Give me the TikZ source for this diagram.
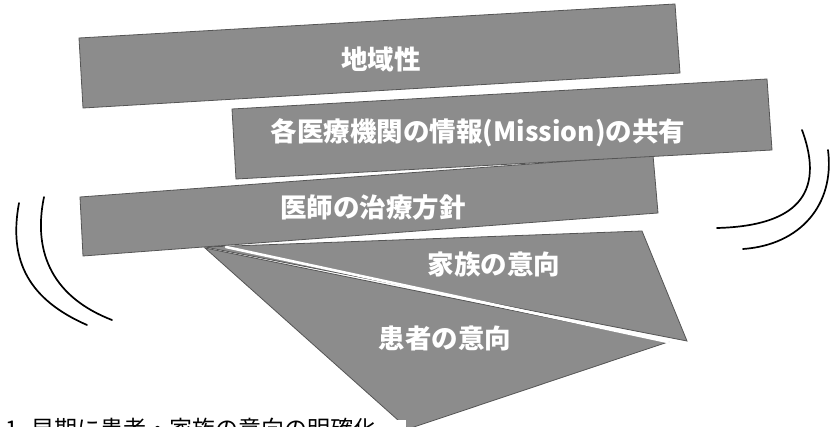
\documentclass[tikz,border=0pt]{standalone}
\usepackage{fontspec}
\newfontfamily\jp{Noto Sans CJK JP}
\definecolor{barfill}{RGB}{140,140,140}
\definecolor{baredge}{RGB}{85,85,85}
\tikzset{
  bar/.style={fill=barfill, draw=baredge, line width=0.8pt, line join=miter},
  bartext/.style={text=white, font=\jp\bfseries\fontsize{26.5}{30}\selectfont, inner sep=0pt},
  arcline/.style={draw=black, line width=1.7pt, line cap=round},
  gapline/.style={draw=white, line width=2.6pt, line cap=round},
  notetext/.style={text=black, font=\jp\fontsize{23}{26}\selectfont, inner sep=0pt}
}
\begin{document}
\begin{tikzpicture}[x=1pt,y=-1pt]
\useasboundingbox (0,0) rectangle (830,427);
\fill[white] (0,0) rectangle (830,427);
\begin{scope}
\clip (0,0) rectangle (830,427);
% triangles
\coordinate (ta) at (205,247);
\coordinate (tb) at (642,231);
\coordinate (tc) at (687,341);
\coordinate (ua) at (205,248);
\coordinate (ud) at (668,342);
\coordinate (ue) at (408,429);
\coordinate (wa) at (226,247);
\path[bar] (ta) -- (tb) -- (tc) -- cycle;
\path[bar] (ua) -- (ud) -- (ue) -- cycle;
\draw[gapline] (wa) -- (ud);
% bar 1
\coordinate (b1a) at (79,38);
\coordinate (b1b) at (675,4);
\coordinate (b1c) at (680,73);
\coordinate (b1d) at (83,108);
\path[bar] (b1a) -- (b1b) -- (b1c) -- (b1d) -- cycle;
% bar 3
\coordinate (b3a) at (80,197);
\coordinate (b3b) at (653,155);
\coordinate (b3c) at (658,213);
\coordinate (b3d) at (83,256);
\path[bar] (b3a) -- (b3b) -- (b3c) -- (b3d) -- cycle;
% bar 2
\coordinate (b2a) at (232,109);
\coordinate (b2b) at (767,79);
\coordinate (b2c) at (772,150);
\coordinate (b2d) at (236,179);
\path[bar] (b2a) -- (b2b) -- (b2c) -- (b2d) -- cycle;
% texts
\node[bartext] (t1) at (381,59) {地域性};
\node[bartext] (t2) at (478,133) {各医療機関の情報(Mission)の共有};
\node[bartext] (t3) at (373,207) {医師の治療方針};
\node[bartext] (t4) at (494,264) {家族の意向};
\node[bartext] (t5) at (445,338) {患者の意向};
% arcs
\coordinate (la0) at (19,203);
\coordinate (la1) at (87,325);
\coordinate (lb0) at (44,197);
\coordinate (lb1) at (112,320);
\draw[arcline] (la0) .. controls (8,262) and (30,300) .. (la1);
\draw[arcline] (lb0) .. controls (32,255) and (55,298) .. (lb1);
\coordinate (ra0) at (802,130);
\coordinate (ra1) at (717,228);
\coordinate (rb0) at (828,150);
\coordinate (rb1) at (743,249);
\draw[arcline] (ra0) .. controls (826,195) and (795,226) .. (ra1);
\draw[arcline] (rb0) .. controls (835,205) and (800,245) .. (rb1);
% bottom note (cut off)
\fill[white] (0,420) rectangle (406,440);
\node[notetext, anchor=base west] (note) at (5,437) {1. 早期に患者・家族の意向の明確化};
\end{scope}
\end{tikzpicture}
\end{document}
